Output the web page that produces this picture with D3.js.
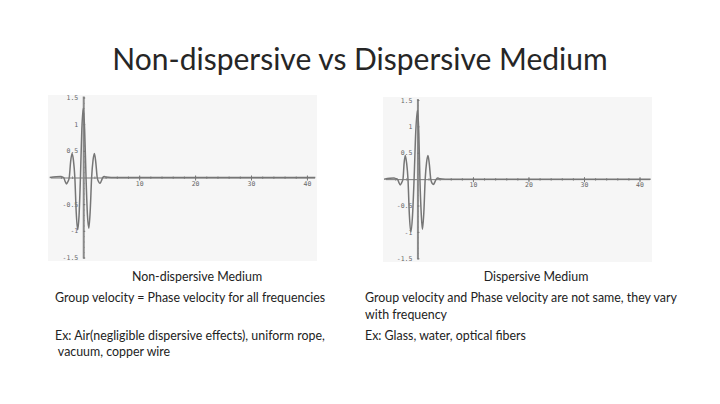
<!DOCTYPE html>
<html><head><meta charset="utf-8">
<script src="https://cdn.jsdelivr.net/npm/d3@7"></script>
<style>
html,body{margin:0;padding:0;background:#fff;}
svg{display:block;}
</style></head>
<body>
<svg id="c" width="720" height="404"></svg>
<script>
// ---- data ----
const title = "Non-dispersive vs Dispersive Medium";
const xTicks = [10, 20, 30, 40];
const yTicks = [-1.5, -1, -0.5, 0.5, 1, 1.5];
const yTickLabels = ["-1.5", "-1", "-0.5", "0.5", "1", "1.5"];

// pulse in non-dispersive medium (x, displacement)
const nondispX = [-6, -4, -3.75, -3.5, -3.25, -3, -2.75, -2.5, -2.25, -2, -1.75, -1.5, -1.25, -1, -0.75, -0.5, -0.25, 0, 0.25, 0.5, 0.75, 1, 1.25, 1.5, 1.75, 2, 2.25, 2.5, 2.75, 3, 3.25, 3.5, 3.75, 4, 6, 41.5];
const nondispY = [0, 0.02, 0.01, 0, -0.07, -0.12, -0.08, 0, 0.3, 0.45, 0.32, 0, -0.66, -0.98, -0.72, 0, 0.9, 1.3, 0.9, 0, -0.7, -0.95, -0.62, 0, 0.32, 0.45, 0.28, 0, -0.08, -0.11, -0.06, 0, 0.02, 0.01, 0, 0];

// pulse in dispersive medium
const dispX = [-6, -4.2, -3.9, -3.6, -3.35, -3.1, -2.85, -2.6, -2.4, -2.2, -1.95, -1.7, -1.45, -1.2, -0.9, -0.6, -0.3, 0, 0.25, 0.45, 0.7, 0.9, 1.15, 1.4, 1.65, 1.9, 2.15, 2.4, 2.65, 2.9, 3.15, 3.4, 3.7, 4, 6, 42];
const dispY = [0, 0.02, 0.01, 0, -0.06, -0.11, -0.07, 0, 0.3, 0.45, 0.31, 0, -0.68, -1.0, -0.72, 0, 0.9, 1.3, 0.88, 0, -0.68, -0.95, -0.64, 0, 0.32, 0.45, 0.28, 0, -0.08, -0.1, -0.05, 0, 0.02, 0.01, 0, 0];

const captions = [
  {head: "Non-dispersive Medium", lines: ["Group velocity = Phase velocity for all frequencies"], ex: ["Ex: Air(negligible dispersive effects), uniform rope,", " vacuum, copper wire"]},
  {head: "Dispersive Medium", lines: ["Group velocity and Phase velocity are not same, they vary", "with frequency"], ex: ["Ex: Glass, water, optical fibers"]}
];

// ---- drawing ----
const svg = d3.select("#c");
const FONT = "Lato, 'Open Sans', sans-serif";

svg.append("text").attr("x", 360).attr("y", 70).attr("text-anchor", "middle")
  .attr("font-family", FONT).attr("font-size", 30).attr("fill", "#262626").text(title);

function drawChart(cfg, xs, ys) {
  const g = svg.append("g");
  g.append("rect").attr("x", cfg.px0).attr("y", cfg.py0)
    .attr("width", cfg.px1 - cfg.px0).attr("height", cfg.py1 - cfg.py0).attr("fill", "#f6f6f6");
  const x = d3.scaleLinear().domain(cfg.xd).range([cfg.px0, cfg.px1]);
  const y = d3.scaleLinear().domain([-1.5, 1.5]).range([cfg.yb, cfg.yt]);
  const x0 = x(0), y0 = y(0);

  // x axis
  const xa = g.append("g").attr("transform", `translate(0,${y0})`)
    .call(d3.axisBottom(x).tickValues(d3.range(-4, 41, 2)).tickSize(2).tickFormat(""));
  xa.select(".domain").attr("d", `M${cfg.px0 + 3},0.5H${cfg.px1 - 2}`).attr("stroke", "#777");
  xa.selectAll(".tick line").attr("stroke", "#888").attr("y1", -1).attr("y2", 1.5);
  const xl = g.append("g").attr("transform", `translate(0,${y0})`)
    .call(d3.axisBottom(x).tickValues(xTicks).tickSize(3).tickPadding(0.5));
  xl.select(".domain").remove();
  xl.selectAll(".tick line").attr("stroke", "#777").attr("y1", -2);
  xl.selectAll(".tick text").attr("font-family", "'DejaVu Sans Mono', monospace").attr("font-size", 6.5).attr("fill", "#666");

  // y axis
  const ya = g.append("g").attr("transform", `translate(${x0},0)`)
    .call(d3.axisLeft(y).tickValues(d3.range(-15, 16, 1).map(v => v / 10)).tickSize(1.5).tickFormat(""));
  ya.select(".domain").remove();
  ya.selectAll(".tick line").attr("stroke", "#999").attr("x2", 1.5);
  g.append("line").attr("x1", x0 + 0.5).attr("x2", x0 + 0.5).attr("y1", y(1.5) - 1).attr("y2", y(-1.5) + 1)
    .attr("stroke", "#8a8a8a").attr("stroke-width", 2);
  const yl = g.append("g").attr("transform", `translate(${x0},0)`)
    .call(d3.axisLeft(y).tickValues(yTicks).tickSize(3).tickPadding(2)
      .tickFormat((d, i) => yTickLabels[i]));
  yl.select(".domain").remove();
  yl.selectAll(".tick line").attr("stroke", "#777").attr("x2", 2);
  yl.selectAll(".tick text").attr("font-family", "'DejaVu Sans Mono', monospace").attr("font-size", 6.5).attr("fill", "#666");

  // curve
  const pts = xs.map((v, i) => [v, ys[i]]);
  const path = d3.line().x(d => x(d[0])).y(d => y(d[1])).curve(d3.curveMonotoneX);
  g.append("path").attr("d", path(pts)).attr("fill", "none").attr("stroke", "#767676").attr("stroke-width", 1.5);
}

drawChart({px0: 48, px1: 317, py0: 95, py1: 261, xd: [-6.3, 41.8], yt: 97.5, yb: 257.5}, nondispX, nondispY);
drawChart({px0: 383, px1: 652, py0: 97, py1: 262, xd: [-6.2, 42.25], yt: 100, yb: 258.3}, dispX, dispY);

function caption(c, cx, lx, yHead, yLines, yEx) {
  const t = (x, y, s, anchor) => svg.append("text").attr("x", x).attr("y", y).attr("text-anchor", anchor || "start")
    .attr("font-family", FONT).attr("font-size", 12.4).attr("fill", "#222").style("white-space", "pre").text(s);
  t(cx, yHead, c.head, "middle");
  c.lines.forEach((s, i) => t(lx, yLines + i * 17, s));
  c.ex.forEach((s, i) => t(lx, yEx + i * 16, s));
}
caption(captions[0], 197, 55, 281, 302, 340);
caption(captions[1], 536, 365, 281, 302, 340);
</script>
</body></html>
